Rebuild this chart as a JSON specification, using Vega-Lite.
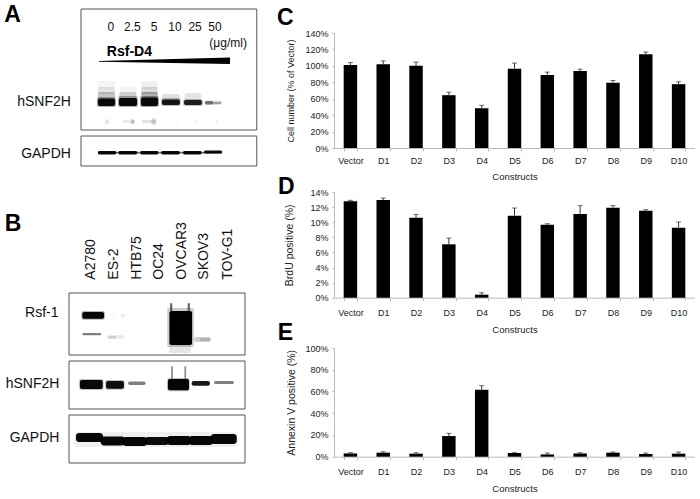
{
"$schema":"https://vega.github.io/schema/vega-lite/v6.json",
"background":"white",
"padding":{"left":4,"top":4,"right":0,"bottom":0},
"config":{"font":"Liberation Sans","view":{"stroke":null},"text":{"font":"Liberation Sans"}},
"spacing":19,
"hconcat":[
{"bounds":"flush","spacing":6,"vconcat":[
  {"width":188,"height":121,"layer":[
   {"data":{"values":[{"x0":-0.19,"x1":8.02,"y0":0,"y1":121}]},"mark":{"type":"rect","fill":"white","stroke":"#555","strokeWidth":1},
    "encoding":{"x":{"field":"x0","type":"quantitative","scale":{"domain":[-0.75,8.03],"nice":false,"zero":false},"axis":null},"x2":{"field":"x1"},"y":{"field":"y0","type":"quantitative","scale":{"domain":[0,121],"reverse":true,"nice":false,"zero":false},"axis":null},"y2":{"field":"y1"}}},
   {"data":{"values":[
    {"x0":0.6,"x1":1.4,"y0":72,"y1":80,"s":0.04},{"x0":0.6,"x1":1.4,"y0":78,"y1":85,"s":0.1},{"x0":0.6,"x1":1.4,"y0":83,"y1":90,"s":0.22},{"x0":0.55,"x1":1.45,"y0":88,"y1":98,"s":0.3},{"x0":0.6,"x1":1.4,"y0":89.5,"y1":97,"s":0.95},
    {"x0":1.6,"x1":2.4,"y0":78,"y1":84,"s":0.04},{"x0":1.6,"x1":2.4,"y0":83,"y1":89,"s":0.18},{"x0":1.54,"x1":2.47,"y0":87,"y1":98,"s":0.3},{"x0":1.58,"x1":2.43,"y0":89,"y1":97,"s":0.95},
    {"x0":2.62,"x1":3.4,"y0":72,"y1":80,"s":0.06},{"x0":2.62,"x1":3.4,"y0":78,"y1":85,"s":0.14},{"x0":2.62,"x1":3.4,"y0":83,"y1":89,"s":0.3},{"x0":2.57,"x1":3.45,"y0":87,"y1":98,"s":0.35},{"x0":2.61,"x1":3.41,"y0":88.5,"y1":97,"s":0.95},
    {"x0":3.6,"x1":4.42,"y0":85,"y1":91,"s":0.12},{"x0":3.55,"x1":4.47,"y0":89,"y1":97,"s":0.25},{"x0":3.59,"x1":4.43,"y0":90.5,"y1":96,"s":0.9},
    {"x0":4.64,"x1":5.44,"y0":84,"y1":91,"s":0.1},{"x0":4.58,"x1":5.5,"y0":90,"y1":97,"s":0.25},{"x0":4.62,"x1":5.46,"y0":91,"y1":96,"s":0.85},
    {"x0":5.56,"x1":6.4,"y0":91.5,"y1":96,"s":0.12},{"x0":5.6,"x1":6.0,"y0":92,"y1":95.5,"s":0.5},{"x0":6.0,"x1":6.36,"y0":93,"y1":95,"s":0.3},
    {"x0":0.95,"x1":1.1,"y0":110,"y1":115,"s":0.12},{"x0":1.75,"x1":2.35,"y0":111,"y1":114,"s":0.08},{"x0":2.15,"x1":2.3,"y0":110,"y1":115,"s":0.2},{"x0":2.65,"x1":3.35,"y0":111,"y1":114,"s":0.12},{"x0":3.1,"x1":3.3,"y0":109,"y1":116,"s":0.15},
    {"x0":4.2,"x1":4.3,"y0":111,"y1":115,"s":0.04},{"x0":5.1,"x1":5.2,"y0":111,"y1":115,"s":0.04},{"x0":6.1,"x1":6.2,"y0":111,"y1":115,"s":0.06}
   ]},"mark":{"type":"rect","fill":"black","strokeWidth":0,"cornerRadius":2},
    "encoding":{"x":{"field":"x0","type":"quantitative"},"x2":{"field":"x1"},"y":{"field":"y0","type":"quantitative"},"y2":{"field":"y1"},"opacity":{"field":"s","type":"quantitative","scale":{"domain":[0,1],"range":[0,1]},"legend":null}}},
   {"data":{"values":[{"x":0.65,"y":52,"y2":52.8},{"x":6.77,"y":48.5,"y2":55}]},"mark":{"type":"area","color":"black"},
    "encoding":{"x":{"field":"x","type":"quantitative"},"y":{"field":"y","type":"quantitative"},"y2":{"field":"y2"}}},
   {"data":{"values":[{"x":1.2,"y":18,"t":"0"},{"x":2.21,"y":18,"t":"2.5"},{"x":3.22,"y":18,"t":"5"},{"x":4.2,"y":18,"t":"10"},{"x":5.14,"y":18,"t":"25"},{"x":6.07,"y":18,"t":"50"},{"x":6.68,"y":34,"t":"(μg/ml)"}]},"mark":{"type":"text","fontSize":12,"color":"#111"},
    "encoding":{"x":{"field":"x","type":"quantitative"},"y":{"field":"y","type":"quantitative"},"text":{"field":"t"}}},
   {"data":{"values":[{"x":2.07,"y":43,"t":"Rsf-D4"}]},"mark":{"type":"text","fontSize":14,"fontWeight":"bold","color":"#000"},
    "encoding":{"x":{"field":"x","type":"quantitative"},"y":{"field":"y","type":"quantitative"},"text":{"field":"t"}}},
   {"data":{"values":[{"x":-0.66,"y":93,"t":"hSNF2H"}]},"mark":{"type":"text","fontSize":14,"align":"right","color":"#111"},
    "encoding":{"x":{"field":"x","type":"quantitative"},"y":{"field":"y","type":"quantitative"},"text":{"field":"t"}}},
   {"data":{"values":[{"x":-3.39,"y":13,"t":"A"}]},"mark":{"type":"text","fontSize":23,"fontWeight":"bold","baseline":"alphabetic","color":"#000"},
    "encoding":{"x":{"field":"x","type":"quantitative"},"y":{"field":"y","type":"quantitative"},"text":{"field":"t"}}}
  ]},
  {"width":188,"height":30,"layer":[
   {"data":{"values":[{"x0":-0.19,"x1":8.02,"y0":0,"y1":30}]},"mark":{"type":"rect","fill":"white","stroke":"#555","strokeWidth":1},
    "encoding":{"x":{"field":"x0","type":"quantitative","scale":{"domain":[-0.75,8.03],"nice":false,"zero":false},"axis":null},"x2":{"field":"x1"},"y":{"field":"y0","type":"quantitative","scale":{"domain":[0,30],"reverse":true,"nice":false,"zero":false},"axis":null},"y2":{"field":"y1"}}},
   {"data":{"values":[
    {"x0":0.6,"x1":6.4,"y0":15.8,"y1":17.5,"s":0.6},
    {"x0":0.6,"x1":1.45,"y0":15,"y1":18.5,"s":0.95},{"x0":1.56,"x1":2.43,"y0":15,"y1":18.5,"s":0.95},{"x0":2.58,"x1":3.42,"y0":15,"y1":18.5,"s":0.95},{"x0":3.56,"x1":4.42,"y0":15,"y1":18.5,"s":0.95},{"x0":4.58,"x1":5.44,"y0":15,"y1":18.5,"s":0.95},{"x0":5.56,"x1":6.4,"y0":14.5,"y1":17.5,"s":0.95}
   ]},"mark":{"type":"rect","fill":"black","strokeWidth":0,"cornerRadius":1.5},
    "encoding":{"x":{"field":"x0","type":"quantitative"},"x2":{"field":"x1"},"y":{"field":"y0","type":"quantitative"},"y2":{"field":"y1"},"opacity":{"field":"s","type":"quantitative","scale":{"domain":[0,1],"range":[0,1]},"legend":null}}},
   {"data":{"values":[{"x":-0.66,"y":18,"t":"GAPDH"}]},"mark":{"type":"text","fontSize":14,"align":"right","color":"#111"},
    "encoding":{"x":{"field":"x","type":"quantitative"},"y":{"field":"y","type":"quantitative"},"text":{"field":"t"}}}
  ]},
  {"width":1,"height":114.3,"data":{"values":[]},"mark":"text","encoding":{}},
  {"width":176,"height":62,"layer":[
   {"data":{"values":[{"x0":-0.045,"x1":7.955,"y0":0,"y1":62}]},"mark":{"type":"rect","fill":"white","stroke":"#555","strokeWidth":1},
    "encoding":{"x":{"field":"x0","type":"quantitative","scale":{"domain":[-0.045,7.955],"nice":false,"zero":false},"axis":null},"x2":{"field":"x1"},"y":{"field":"y0","type":"quantitative","scale":{"domain":[0,62],"reverse":true,"nice":false,"zero":false},"axis":null},"y2":{"field":"y1"}}},
   {"data":{"values":[
    {"x0":0.52,"x1":1.58,"y0":18,"y1":26.7,"s":0.3},{"x0":0.56,"x1":1.55,"y0":19,"y1":25.7,"s":0.97},
    {"x0":0.56,"x1":1.42,"y0":40,"y1":42.3,"s":0.5},
    {"x0":1.82,"x1":2.0,"y0":21,"y1":23,"s":0.05},{"x0":2.3,"x1":2.5,"y0":21,"y1":24,"s":0.08},
    {"x0":1.67,"x1":2.45,"y0":42,"y1":46,"s":0.08},{"x0":1.75,"x1":2.1,"y0":43,"y1":45.5,"s":0.12},
    {"x0":4.42,"x1":5.63,"y0":15,"y1":54,"s":0.2},{"x0":4.52,"x1":5.55,"y0":18,"y1":52,"s":1},
    {"x0":4.55,"x1":4.65,"y0":10,"y1":18,"s":0.6},{"x0":5.35,"x1":5.45,"y0":10,"y1":18,"s":0.6},{"x0":4.5,"x1":5.5,"y0":52,"y1":60,"s":0.1},
    {"x0":5.64,"x1":6.4,"y0":44,"y1":49,"s":0.18},{"x0":5.9,"x1":6.38,"y0":45,"y1":48,"s":0.15}
   ]},"mark":{"type":"rect","fill":"black","strokeWidth":0,"cornerRadius":2},
    "encoding":{"x":{"field":"x0","type":"quantitative"},"x2":{"field":"x1"},"y":{"field":"y0","type":"quantitative"},"y2":{"field":"y1"},"opacity":{"field":"s","type":"quantitative","scale":{"domain":[0,1],"range":[0,1]},"legend":null}}},
   {"data":{"values":[{"x":0.94,"y":-13.3,"t":"A2780"},{"x":2.0,"y":-13.3,"t":"ES-2"},{"x":3.03,"y":-13.3,"t":"HTB75"},{"x":4.05,"y":-13.3,"t":"OC24"},{"x":5.08,"y":-13.3,"t":"OVCAR3"},{"x":6.1,"y":-13.3,"t":"SKOV3"},{"x":7.2,"y":-13.3,"t":"TOV-G1"}]},"mark":{"type":"text","fontSize":14,"angle":270,"align":"left","baseline":"middle","color":"#111"},
    "encoding":{"x":{"field":"x","type":"quantitative"},"y":{"field":"y","type":"quantitative"},"text":{"field":"t"}}},
   {"data":{"values":[{"x":-0.52,"y":20,"t":"Rsf-1"}]},"mark":{"type":"text","fontSize":14,"align":"right","color":"#111"},
    "encoding":{"x":{"field":"x","type":"quantitative"},"y":{"field":"y","type":"quantitative"},"text":{"field":"t"}}},
   {"data":{"values":[{"x":-2.59,"y":-62.3,"t":"B"}]},"mark":{"type":"text","fontSize":23,"fontWeight":"bold","baseline":"alphabetic","color":"#000"},
    "encoding":{"x":{"field":"x","type":"quantitative"},"y":{"field":"y","type":"quantitative"},"text":{"field":"t"}}}
  ]},
  {"width":176,"height":48,"layer":[
   {"data":{"values":[{"x0":-0.045,"x1":7.955,"y0":0,"y1":48}]},"mark":{"type":"rect","fill":"white","stroke":"#555","strokeWidth":1},
    "encoding":{"x":{"field":"x0","type":"quantitative","scale":{"domain":[-0.045,7.955],"nice":false,"zero":false},"axis":null},"x2":{"field":"x1"},"y":{"field":"y0","type":"quantitative","scale":{"domain":[0,48],"reverse":true,"nice":false,"zero":false},"axis":null},"y2":{"field":"y1"}}},
   {"data":{"values":[
    {"x0":0.42,"x1":1.52,"y0":18,"y1":29,"s":0.25},{"x0":0.45,"x1":1.49,"y0":19,"y1":28,"s":0.95},
    {"x0":1.6,"x1":2.48,"y0":19,"y1":28.7,"s":0.25},{"x0":1.64,"x1":2.45,"y0":20,"y1":27.7,"s":0.92},
    {"x0":2.64,"x1":3.44,"y0":20.5,"y1":24,"s":0.5},
    {"x0":4.42,"x1":5.44,"y0":17,"y1":30.3,"s":0.25},{"x0":4.45,"x1":5.41,"y0":18,"y1":29.3,"s":0.97},
    {"x0":4.6,"x1":4.68,"y0":5,"y1":18,"s":0.45},{"x0":5.2,"x1":5.28,"y0":5,"y1":18,"s":0.45},
    {"x0":5.53,"x1":6.36,"y0":20,"y1":24.7,"s":0.9},
    {"x0":6.55,"x1":7.45,"y0":20,"y1":23,"s":0.5}
   ]},"mark":{"type":"rect","fill":"black","strokeWidth":0,"cornerRadius":2},
    "encoding":{"x":{"field":"x0","type":"quantitative"},"x2":{"field":"x1"},"y":{"field":"y0","type":"quantitative"},"y2":{"field":"y1"},"opacity":{"field":"s","type":"quantitative","scale":{"domain":[0,1],"range":[0,1]},"legend":null}}},
   {"data":{"values":[{"x":-0.48,"y":22.5,"t":"hSNF2H"}]},"mark":{"type":"text","fontSize":14,"align":"right","color":"#111"},
    "encoding":{"x":{"field":"x","type":"quantitative"},"y":{"field":"y","type":"quantitative"},"text":{"field":"t"}}}
  ]},
  {"width":176,"height":48,"layer":[
   {"data":{"values":[{"x0":-0.045,"x1":7.955,"y0":0,"y1":48}]},"mark":{"type":"rect","fill":"white","stroke":"#555","strokeWidth":1},
    "encoding":{"x":{"field":"x0","type":"quantitative","scale":{"domain":[-0.045,7.955],"nice":false,"zero":false},"axis":null},"x2":{"field":"x1"},"y":{"field":"y0","type":"quantitative","scale":{"domain":[0,48],"reverse":true,"nice":false,"zero":false},"axis":null},"y2":{"field":"y1"}}},
   {"data":{"values":[
    {"x0":0.27,"x1":1.5,"y0":18,"y1":27,"s":0.97},{"x0":1.4,"x1":2.5,"y0":21.5,"y1":30.5,"s":0.97},{"x0":2.4,"x1":3.5,"y0":22,"y1":31,"s":0.97},{"x0":3.4,"x1":4.5,"y0":22,"y1":30,"s":0.95},{"x0":4.4,"x1":5.5,"y0":21,"y1":30,"s":0.97},{"x0":5.4,"x1":6.5,"y0":21,"y1":30,"s":0.97},{"x0":6.4,"x1":7.58,"y0":19,"y1":29,"s":0.97},
    {"x0":0.2,"x1":7.62,"y0":17,"y1":32,"s":0.06}
   ]},"mark":{"type":"rect","fill":"black","strokeWidth":0,"cornerRadius":3},
    "encoding":{"x":{"field":"x0","type":"quantitative"},"x2":{"field":"x1"},"y":{"field":"y0","type":"quantitative"},"y2":{"field":"y1"},"opacity":{"field":"s","type":"quantitative","scale":{"domain":[0,1],"range":[0,1]},"legend":null}}},
   {"data":{"values":[{"x":-0.48,"y":22.7,"t":"GAPDH"}]},"mark":{"type":"text","fontSize":14,"align":"right","color":"#111"},
    "encoding":{"x":{"field":"x","type":"quantitative"},"y":{"field":"y","type":"quantitative"},"text":{"field":"t"}}}
  ]}
]},
{"bounds":"flush","spacing":0,"vconcat":[
  {"width":361,"height":24,"data":{"values":[]},"mark":"text","encoding":{}},
  {"width":361,"height":115,
   "data":{"values":[{"k":"Vector","v":101,"u":104},{"k":"D1","v":102,"u":106},{"k":"D2","v":100,"u":104.6},{"k":"D3","v":64.3,"u":68},{"k":"D4","v":48.4,"u":52},{"k":"D5","v":96.5,"u":103.4},{"k":"D6","v":89,"u":92.4},{"k":"D7","v":93.6,"u":96},{"k":"D8","v":79.4,"u":82.2},{"k":"D9","v":114,"u":116.8},{"k":"D10","v":77.7,"u":80.6}]},
   "layer":[
    {"mark":{"type":"bar","color":"black"},"encoding":{
     "x":{"field":"k","type":"nominal","sort":null,"scale":{"paddingInner":0.59,"paddingOuter":0.295},"axis":{"title":"Constructs","labelAngle":0,"tickBand":"extent","domainColor":"#bbb","tickColor":"#bbb","tickSize":3,"labelPadding":5,"labelFontSize":9,"labelColor":"#222","titleFontSize":9.5,"titleFontWeight":"normal","titleColor":"#222","titlePadding":6}},
     "y":{"field":"v","type":"quantitative","scale":{"domain":[0,140],"nice":false},"axis":{"title":"Cell number (% of Vector)","values":[0,20,40,60,80,100,120,140],"tickCount":8,"labelExpr":"datum.value+'%'","labelOverlap":false,"grid":false,"domainColor":"#bbb","tickColor":"#bbb","tickSize":2,"labelPadding":4,"labelFontSize":9,"labelColor":"#222","titleFontSize":9,"titleFontWeight":"normal","titleColor":"#222","titleX":-39}}}},
    {"mark":{"type":"rule","color":"#333"},"encoding":{"x":{"field":"k","type":"nominal","sort":null},"y":{"field":"v","type":"quantitative"},"y2":{"field":"u"}}},
    {"mark":{"type":"tick","color":"#333","size":5,"thickness":1},"encoding":{"x":{"field":"k","type":"nominal","sort":null},"y":{"field":"u","type":"quantitative"}}},
    {"data":{"values":[{"k":"Vector","y":150,"t":"C"}]},"mark":{"type":"text","fontSize":23,"fontWeight":"bold","baseline":"alphabetic","dx":-65,"color":"#000"},"encoding":{"x":{"field":"k","type":"nominal","sort":null},"y":{"field":"y","type":"quantitative"},"text":{"field":"t"}}}
   ]},
  {"width":361,"height":43.7,"data":{"values":[]},"mark":"text","encoding":{}},
  {"width":361,"height":105.7,
    "data":{"values":[{"k":"Vector","v":12.76,"u":12.9},{"k":"D1","v":12.94,"u":13.2},{"k":"D2","v":10.6,"u":11.04},{"k":"D3","v":7.07,"u":7.9},{"k":"D4","v":0.4,"u":0.66},{"k":"D5","v":10.87,"u":11.88},{"k":"D6","v":9.67,"u":9.8},{"k":"D7","v":11.09,"u":12.2},{"k":"D8","v":11.93,"u":12.2},{"k":"D9","v":11.53,"u":11.66},{"k":"D10","v":9.28,"u":10.03}]},
    "layer":[
     {"mark":{"type":"bar","color":"black"},"encoding":{
      "x":{"field":"k","type":"nominal","sort":null,"scale":{"paddingInner":0.59,"paddingOuter":0.295},"axis":{"title":"Constructs","labelAngle":0,"tickBand":"extent","domainColor":"#bbb","tickColor":"#bbb","tickSize":3,"labelPadding":8,"labelFontSize":9,"labelColor":"#222","titleFontSize":9.5,"titleFontWeight":"normal","titleColor":"#222","titlePadding":7}},
      "y":{"field":"v","type":"quantitative","scale":{"domain":[0,14],"nice":false},"axis":{"title":"BrdU positive (%)","values":[0,2,4,6,8,10,12,14],"tickCount":8,"labelExpr":"datum.value+'%'","labelOverlap":false,"grid":false,"domainColor":"#bbb","tickColor":"#bbb","tickSize":2,"labelPadding":4,"labelFontSize":9,"labelColor":"#222","titleFontSize":10.5,"titleFontWeight":"normal","titleColor":"#222","titleX":-40}}}},
     {"mark":{"type":"rule","color":"#333"},"encoding":{"x":{"field":"k","type":"nominal","sort":null},"y":{"field":"v","type":"quantitative"},"y2":{"field":"u"}}},
     {"mark":{"type":"tick","color":"#333","size":5,"thickness":1},"encoding":{"x":{"field":"k","type":"nominal","sort":null},"y":{"field":"u","type":"quantitative"}}},
     {"data":{"values":[{"k":"Vector","y":13.7,"t":"D"}]},"mark":{"type":"text","fontSize":23,"fontWeight":"bold","baseline":"alphabetic","dx":-64,"color":"#000"},"encoding":{"x":{"field":"k","type":"nominal","sort":null},"y":{"field":"y","type":"quantitative"},"text":{"field":"t"}}}
    ]},
  {"width":361,"height":50,"data":{"values":[]},"mark":"text","encoding":{}},
  {"width":361,"height":108.7,
    "data":{"values":[{"k":"Vector","v":3,"u":3.7},{"k":"D1","v":3.7,"u":4.6},{"k":"D2","v":2.8,"u":3.7},{"k":"D3","v":19,"u":21.5},{"k":"D4","v":61.7,"u":65.3},{"k":"D5","v":3.4,"u":3.7},{"k":"D6","v":2.1,"u":3.4},{"k":"D7","v":3,"u":3.7},{"k":"D8","v":3.7,"u":4.3},{"k":"D9","v":2.5,"u":3.4},{"k":"D10","v":2.8,"u":4.3}]},
    "layer":[
     {"mark":{"type":"bar","color":"black"},"encoding":{
      "x":{"field":"k","type":"nominal","sort":null,"scale":{"paddingInner":0.59,"paddingOuter":0.295},"axis":{"title":"Constructs","labelAngle":0,"tickBand":"extent","domainColor":"#bbb","tickColor":"#bbb","tickSize":3,"labelPadding":8,"labelFontSize":9,"labelColor":"#222","titleFontSize":9.5,"titleFontWeight":"normal","titleColor":"#222","titlePadding":7}},
      "y":{"field":"v","type":"quantitative","scale":{"domain":[0,100],"nice":false},"axis":{"title":"Annexin V positive (%)","values":[0,20,40,60,80,100],"tickCount":6,"labelExpr":"datum.value+'%'","labelOverlap":false,"grid":false,"domainColor":"#bbb","tickColor":"#bbb","tickSize":2,"labelPadding":4,"labelFontSize":9,"labelColor":"#222","titleFontSize":10.5,"titleFontWeight":"normal","titleColor":"#222","titleX":-38}}}},
     {"mark":{"type":"rule","color":"#333"},"encoding":{"x":{"field":"k","type":"nominal","sort":null},"y":{"field":"v","type":"quantitative"},"y2":{"field":"u"}}},
     {"mark":{"type":"tick","color":"#333","size":5,"thickness":1},"encoding":{"x":{"field":"k","type":"nominal","sort":null},"y":{"field":"u","type":"quantitative"}}},
     {"data":{"values":[{"k":"Vector","y":107.5,"t":"E"}]},"mark":{"type":"text","fontSize":23,"fontWeight":"bold","baseline":"alphabetic","dx":-65,"color":"#000"},"encoding":{"x":{"field":"k","type":"nominal","sort":null},"y":{"field":"y","type":"quantitative"},"text":{"field":"t"}}}
    ]}
]}
]
}
